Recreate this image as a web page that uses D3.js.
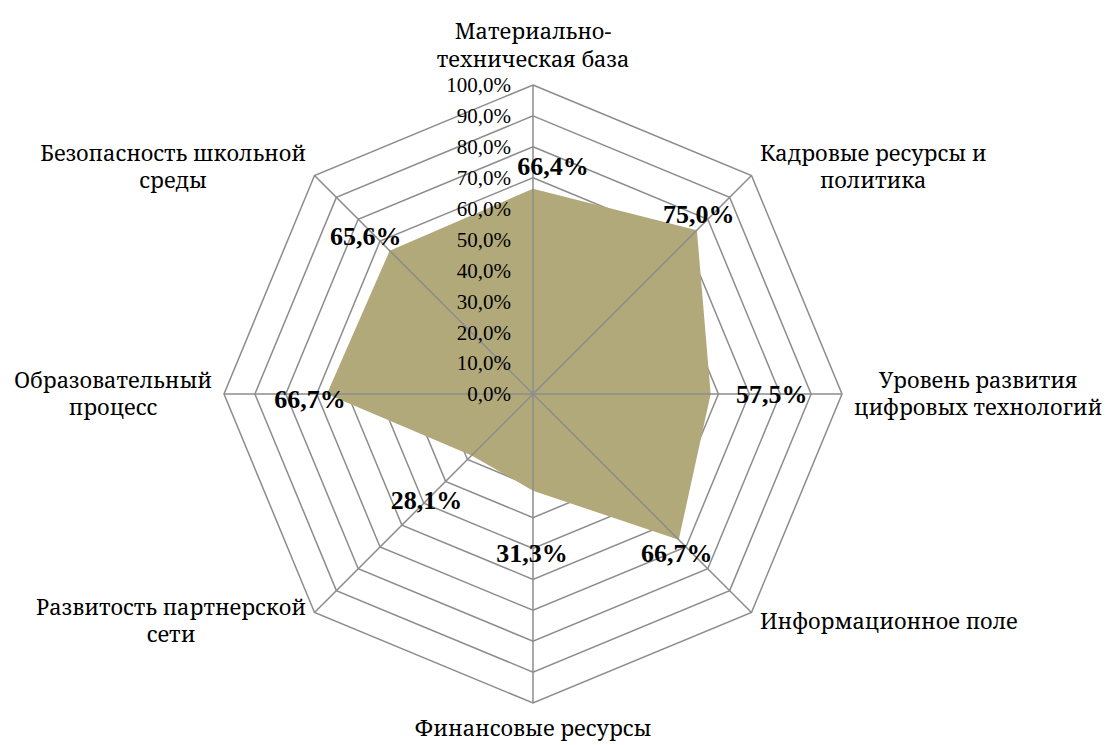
<!DOCTYPE html>
<html><head><meta charset="utf-8">
<script src="https://cdn.jsdelivr.net/npm/d3@7"></script>
<style>
html,body{margin:0;padding:0;background:#fff;}
svg{display:block;}
text.num{font-family:"Liberation Serif","Times New Roman",serif;}
text.cat{font-family:"Noto Serif","DejaVu Serif Condensed",serif;}
</style></head>
<body>
<svg id="chart" width="1110" height="745"></svg>
<script>
// ---- data ----
const categories = [
  "Материально-\nтехническая база",
  "Кадровые ресурсы и\nполитика",
  "Уровень развития\nцифровых технологий",
  "Информационное поле",
  "Финансовые ресурсы",
  "Развитость партнерской\nсети",
  "Образовательный\nпроцесс",
  "Безопасность школьной\nсреды"
];
const values = [66.4, 75.0, 57.5, 66.7, 31.3, 28.1, 66.7, 65.6];
const tickValues = [0, 10, 20, 30, 40, 50, 60, 70, 80, 90, 100];
const tickLabels = ["0,0%","10,0%","20,0%","30,0%","40,0%","50,0%","60,0%","70,0%","80,0%","90,0%","100,0%"];
const valueLabels = ["66,4%","75,0%","57,5%","66,7%","31,3%","28,1%","66,7%","65,6%"];
// label nudges (layout) relative to each data point, px
const labelNudge = [[20,-23],[2,-16],[61,0],[-2,13],[-1,62],[-45,45],[-17,5],[-24,-15]];

// ---- layout ----
const cx = 533, cy = 394, R = 309;
const svg = d3.select("#chart");
const gridColor = "#8c8c8c";
const fillColor = "#b2a97a";

const r = d3.scaleLinear().domain([0, 100]).range([0, R]);
const angle = d3.scalePoint().domain(d3.range(categories.length)).range([0, 2*Math.PI*(categories.length-1)/categories.length]);
const pt = (i, v) => {
  const a = angle(i);
  return [cx + r(v)*Math.sin(a), cy - r(v)*Math.cos(a)];
};

// rings
const ringLine = d3.line().curve(d3.curveLinearClosed);
svg.append("g").selectAll("path").data(tickValues.filter(t => t > 0)).join("path")
  .attr("d", t => ringLine(categories.map((c, i) => pt(i, t))))
  .attr("fill", "none").attr("stroke", gridColor).attr("stroke-width", 1.5);

// data area
const areaLine = d3.line().curve(d3.curveLinearClosed);
svg.append("path")
  .attr("d", areaLine(values.map((v, i) => pt(i, v))))
  .attr("fill", fillColor).attr("stroke", "none");

// spokes
svg.append("g").selectAll("line").data(categories).join("line")
  .attr("x1", cx).attr("y1", cy)
  .attr("x2", (c, i) => pt(i, 100)[0]).attr("y2", (c, i) => pt(i, 100)[1])
  .attr("stroke", gridColor).attr("stroke-width", 1.5);

// tick labels
svg.append("g").selectAll("text").data(tickValues).join("text")
  .attr("class", "num")
  .attr("x", cx - 22).attr("y", t => cy - r(t)).attr("dy", "0.35em")
  .attr("text-anchor", "end")
  .attr("font-size", 21).attr("fill", "#000")
  .text((t, i) => tickLabels[i]);

// data labels
svg.append("g").selectAll("text").data(values).join("text")
  .attr("class", "num")
  .attr("x", (v, i) => pt(i, v)[0] + labelNudge[i][0])
  .attr("y", (v, i) => pt(i, v)[1] + labelNudge[i][1])
  .attr("dy", "0.35em").attr("text-anchor", "middle")
  .attr("font-size", 26).attr("font-weight", "bold").attr("fill", "#000")
  .text((v, i) => valueLabels[i]);

// category labels
const lh = 27.5, pad = 12, fs = 21.8;
categories.forEach((c, i) => {
  const a = angle(i);
  const s = Math.sin(a), co = Math.cos(a);
  const ax = cx + (R + pad)*s, ay = cy - (R + pad)*co;
  const lines = c.split("\n");
  const g = svg.append("g");
  const texts = lines.map(l => g.append("text")
    .attr("class", "cat")
    .attr("font-size", fs).attr("fill", "#000")
    .attr("text-anchor", "middle").text(l));
  const w = d3.max(texts, t => t.node().getComputedTextLength());
  let bx;
  if (Math.abs(s) < 1e-6) bx = ax;
  else if (s > 0) bx = ax + w/2;
  else bx = ax - w/2;
  const blockH = lines.length * lh;
  let top = ay - blockH/2;
  if (Math.abs(s) < 1e-6) top = co > 0 ? ay - blockH : ay;
  texts.forEach((t, k) => t.attr("x", bx).attr("y", top + k*lh + lh/2).attr("dy", "0.35em"));
});
</script>
</body></html>
